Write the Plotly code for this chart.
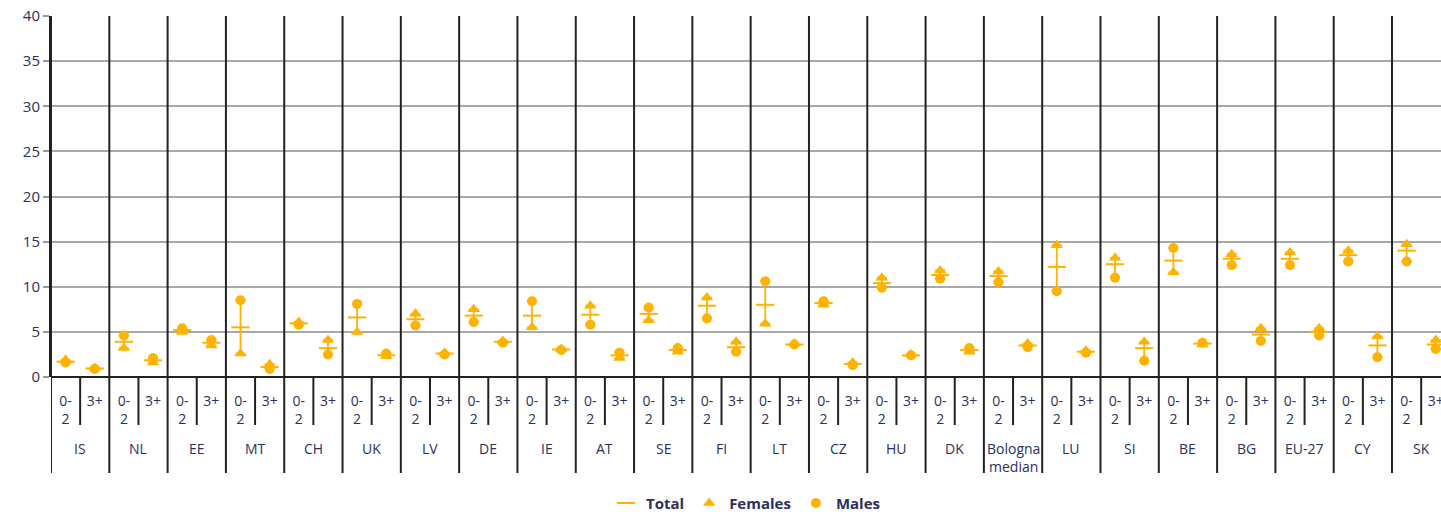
import numpy as np
import plotly.graph_objects as go

countries = ["IS", "NL", "EE", "MT", "CH", "UK", "LV", "DE", "IE", "AT", "SE", "FI",
             "LT", "CZ", "HU", "DK", "Bologna<br>median", "LU", "SI", "BE", "BG",
             "EU-27", "CY", "SK"]
age_labels = ["0-<br>2", "3+"]

# 0-2 years
total_02 = [1.7, 3.9, 5.2, 5.5, 5.95, 6.6, 6.4, 6.8, 6.8, 6.9, 7.0, 7.9,
            8.0, 8.2, 10.4, 11.3, 11.2, 12.2, 12.5, 12.9, 13.1, 13.1, 13.5, 14.0]
females_02 = [1.9, 3.2, 5.0, 2.6, 6.1, 5.0, 7.0, 7.5, 5.5, 7.9, 6.3, 8.8,
              5.9, 8.0, 11.0, 11.8, 11.7, 14.6, 13.2, 11.6, 13.6, 13.8, 14.0, 14.7]
males_02 = [1.6, 4.6, 5.4, 8.5, 5.8, 8.1, 5.7, 6.1, 8.4, 5.8, 7.7, 6.5,
            10.6, 8.4, 9.9, 10.9, 10.5, 9.5, 11.0, 14.3, 12.4, 12.4, 12.8, 12.8]
# 3+ years
total_3p = [0.95, 1.85, 3.8, 1.1, 3.2, 2.4, 2.6, 3.9, 3.05, 2.4, 3.0, 3.3,
            3.6, 1.45, 2.4, 3.0, 3.5, 2.8, 3.2, 3.7, 4.7, 5.0, 3.5, 3.6]
females_3p = [1.0, 1.6, 3.5, 1.4, 4.1, 2.3, 2.7, 4.0, 3.1, 2.1, 2.8, 3.9,
              3.7, 1.6, 2.5, 2.8, 3.7, 2.9, 3.9, 3.6, 5.4, 5.4, 4.5, 4.1]
males_3p = [0.9, 2.1, 4.1, 0.9, 2.5, 2.6, 2.5, 3.8, 3.0, 2.7, 3.2, 2.8,
            3.6, 1.3, 2.4, 3.2, 3.3, 2.7, 1.8, 3.8, 4.0, 4.6, 2.2, 3.1]

ORANGE = "#FFB300"
TEXT = "#2c2f5c"
FONT = "Open Sans"

n = len(countries)
idx = np.arange(n)
x02 = 2 * idx + 0.5
x3p = 2 * idx + 1.5
xs = np.ravel(np.column_stack([x02, x3p]))
tot = np.ravel(np.column_stack([total_02, total_3p]))
fem = np.ravel(np.column_stack([females_02, females_3p]))
mal = np.ravel(np.column_stack([males_02, males_3p]))
hi = np.maximum(fem, mal)
lo = np.minimum(fem, mal)

fig = go.Figure()
fig.add_trace(go.Scatter(
    x=xs, y=tot, mode="markers", name="Total",
    marker=dict(symbol="line-ew", size=13, color=ORANGE,
                line=dict(color=ORANGE, width=2)),
    error_y=dict(type="data", symmetric=False, array=hi - tot, arrayminus=tot - lo,
                 color=ORANGE, thickness=1.8, width=5),
))
fig.add_trace(go.Scatter(
    x=xs, y=fem, mode="markers", name="Females",
    marker=dict(symbol="triangle-up", size=11, color=ORANGE),
))
fig.add_trace(go.Scatter(
    x=xs, y=mal, mode="markers", name="Males",
    marker=dict(symbol="circle", size=10, color=ORANGE),
))

shapes = []
for i in range(n + 1):
    shapes.append(dict(type="line", xref="x", yref="paper", x0=2 * i, x1=2 * i,
                       y0=1, y1=-0.266, line=dict(color="#222222", width=2),
                       layer="above"))
for i in range(n):
    shapes.append(dict(type="line", xref="x", yref="paper", x0=2 * i + 1, x1=2 * i + 1,
                       y0=0, y1=-0.133, line=dict(color="#222222", width=2),
                       layer="above"))

annotations = []
for i, c in enumerate(countries):
    annotations.append(dict(x=2 * i + 1, y=-0.165, xref="x", yref="paper",
                            text=c, showarrow=False, yanchor="top", xanchor="center",
                            font=dict(family=FONT, size=14, color=TEXT)))

fig.update_layout(
    width=1441, height=512,
    margin=dict(l=51, r=0, t=16, b=135, autoexpand=False),
    paper_bgcolor="white", plot_bgcolor="white",
    font=dict(family=FONT, size=14, color=TEXT),
    showlegend=True,
    legend=dict(orientation="h", x=0.5, xanchor="center", xref="paper",
                y=0.017, yanchor="middle", yref="container",
                font=dict(family=FONT, size=15, color=TEXT, weight="bold"),
                itemwidth=30, tracegroupgap=0),
    xaxis=dict(range=[0, 47.68], tickvals=xs, ticktext=age_labels * n,
               showgrid=False, zeroline=False, showline=False, ticks="",
               ticklabelstandoff=14, ticklabeloverflow="allow",
               tickfont=dict(family=FONT, size=14, color=TEXT), tickangle=0),
    yaxis=dict(range=[0, 40], dtick=5, showgrid=True, gridcolor="#a8a8a8",
               gridwidth=1.5, zeroline=True, zerolinecolor="#222222", zerolinewidth=2,
               showline=True, linecolor="#222222", linewidth=2,
               ticks="outside", ticklen=6, tickcolor="#999999", tickwidth=1.5,
               tickfont=dict(family=FONT, size=15, color=TEXT)),
    shapes=shapes, annotations=annotations,
)

fig.write_html("out.html")
